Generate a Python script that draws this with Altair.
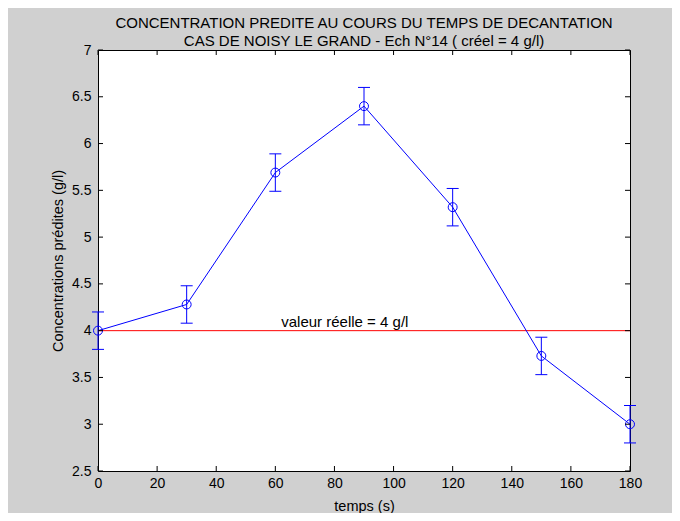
import altair as alt
import pandas as pd

# data
temps = [0, 30, 60, 90, 120, 150, 180]
conc = [4.00, 4.28, 5.69, 6.40, 5.32, 3.73, 3.00]
err = [0.2, 0.2, 0.2, 0.2, 0.2, 0.2, 0.2]
x_ticks = [0, 20, 40, 60, 80, 100, 120, 140, 160, 180]
y_ticks = [2.5, 3, 3.5, 4, 4.5, 5, 5.5, 6, 6.5, 7]
valeur_reelle = 4
label_text = "valeur réelle = 4 g/l"
label_x = 62

W, H = 532, 421
FONT = "Liberation Sans"
BLUE = "#0000ff"

df = pd.DataFrame({"t": temps, "c": conc})
df["lo"] = [c - e for c, e in zip(conc, err)]
df["hi"] = [c + e for c, e in zip(conc, err)]

xscale = alt.Scale(domain=[0, 180], nice=False, zero=False)
yscale = alt.Scale(domain=[2.5, 7], nice=False, zero=False)
xaxis = alt.Axis(values=x_ticks, ticks=False, domain=False, grid=False,
                 labelFlush=False, labelOverlap=False, labelPadding=5,
                 titlePadding=9, format="d", titleFontWeight="normal")
yaxis = alt.Axis(values=y_ticks, ticks=False, domain=False, grid=False,
                 labelFlush=False, labelOverlap=False, labelPadding=7,
                 titlePadding=6, format="~g", titleFontWeight="normal")


def X(field):
    return alt.X(field, type="quantitative", scale=xscale, axis=xaxis, title="temps (s)")


def Y(field):
    return alt.Y(field, type="quantitative", scale=yscale, axis=yaxis,
                 title="Concentrations prédites (g/l)")


base = alt.Chart(df)

line = base.mark_line(color=BLUE, strokeWidth=1).encode(x=X("t"), y=Y("c"))
pts = base.mark_point(shape="circle", filled=False, size=80, color=BLUE,
                      strokeWidth=1, opacity=1).encode(x=X("t"), y=Y("c"))
bars = base.mark_rule(color=BLUE, strokeWidth=1).encode(x=X("t"), y=Y("lo"), y2="hi")
cap_lo = base.mark_tick(orient="horizontal", size=12, thickness=1, color=BLUE,
                        opacity=1).encode(x=X("t"), y=Y("lo"))
cap_hi = base.mark_tick(orient="horizontal", size=12, thickness=1, color=BLUE,
                        opacity=1).encode(x=X("t"), y=Y("hi"))

ref = alt.Chart(pd.DataFrame({"v": [valeur_reelle]})).mark_rule(
    color="#ff0000", strokeWidth=1).encode(y=Y("v"))
txt = alt.Chart(pd.DataFrame({"x": [label_x], "y": [valeur_reelle], "s": [label_text]})).mark_text(
    align="left", baseline="alphabetic", dy=-4, font=FONT, fontSize=15, color="black"
).encode(x=X("x"), y=Y("y"), text="s:N")

xt = pd.DataFrame({"v": x_ticks})
yt = pd.DataFrame({"v": y_ticks})
tick_style = dict(color="black", strokeWidth=1)
xb = alt.Chart(xt).mark_rule(**tick_style).encode(x=X("v"), y=alt.value(H), y2=alt.value(H - 5))
xtop = alt.Chart(xt).mark_rule(**tick_style).encode(x=X("v"), y=alt.value(0), y2=alt.value(5))
yl = alt.Chart(yt).mark_rule(**tick_style).encode(y=Y("v"), x=alt.value(0), x2=alt.value(5))
yr = alt.Chart(yt).mark_rule(**tick_style).encode(y=Y("v"), x=alt.value(W), x2=alt.value(W - 5))

chart = alt.layer(ref, bars, cap_lo, cap_hi, line, pts, txt, xb, xtop, yl, yr).properties(
    width=W, height=H,
    autosize=alt.AutoSizeParams(type="none"),
    padding={"left": 90, "top": 42, "right": 42, "bottom": 42},
    background="#d0d0d0",
    title=alt.TitleParams(
        text=["CONCENTRATION PREDITE AU COURS DU TEMPS DE DECANTATION",
              "CAS DE NOISY LE GRAND - Ech N°14 ( créel = 4 g/l)"],
        font=FONT, fontSize=15, fontWeight="normal", color="black",
        anchor="middle", frame="group", offset=-6, lineHeight=18,
    ),
).configure_view(
    fill="white", stroke="black", strokeWidth=1
).configure_axis(
    labelFont=FONT, labelFontSize=14, labelColor="black",
    titleFont=FONT, titleFontSize=14.5, titleColor="black", titleFontWeight="normal",
)

chart.save("out.html", embed_options={"renderer": "svg", "actions": False})
